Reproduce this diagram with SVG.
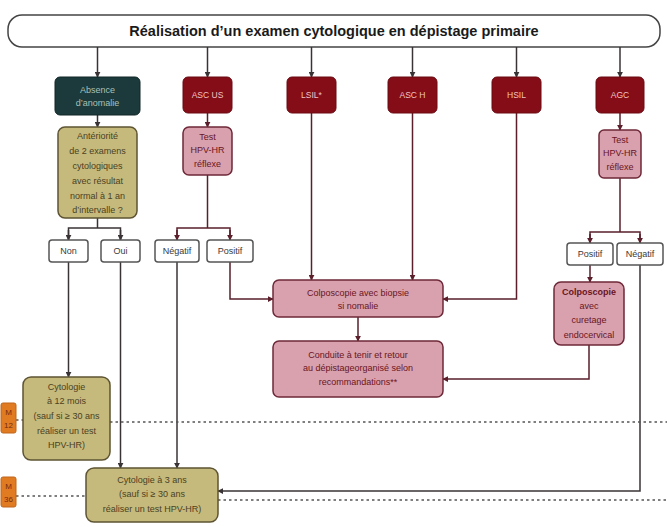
<svg xmlns="http://www.w3.org/2000/svg" width="667" height="527" viewBox="0 0 667 527">
<defs>
<marker id="ar" viewBox="0 0 8 8" refX="7" refY="4" markerWidth="6" markerHeight="6" orient="auto" markerUnits="userSpaceOnUse">
<path d="M0,0 L8,4 L0,8 z" fill="#3a3336"/>
</marker>
<marker id="arr" viewBox="0 0 8 8" refX="7" refY="4" markerWidth="6" markerHeight="6" orient="auto" markerUnits="userSpaceOnUse">
<path d="M0,0 L8,4 L0,8 z" fill="#5a1f2a"/>
</marker>
</defs>
<style>
text{font-family:"Liberation Sans",Arial,sans-serif;text-anchor:middle;font-size:9px}
.title{font-size:14.5px;font-weight:bold;fill:#1a1a1a}
.c{fill:none;stroke:#3a3336;stroke-width:1.5}
.cr{fill:none;stroke:#5a1f2a;stroke-width:1.5}
.dot{fill:none;stroke:#555;stroke-width:1.6;stroke-dasharray:2.5 3}
.red rect{fill:#850d17;stroke:#6a0a12;stroke-width:1}
.red text{fill:#f2c4c4;font-size:8.5px}
.teal rect{fill:#1c3a3b;stroke:#102526}
.teal text{fill:#a9c0b6}
.kh rect{fill:#c6b97c;stroke:#5e5433;stroke-width:1.5}
.kh text{fill:#4a4222}
.pk rect{fill:#d8a1ad;stroke:#6e2838;stroke-width:1.5}
.pk text{fill:#6a1424}
.wh rect{fill:#fff;stroke:#555;stroke-width:1.5}
.wh text{fill:#3a3a3a}
.or rect{fill:#e07b22;stroke:#c0661a}
.or text{fill:#7a2a10;font-size:8px}
</style>

<g id="title">
<rect x="8" y="15" width="652" height="32" rx="14" fill="#fff" stroke="#444" stroke-width="1.5"/>
<text class="title" x="334" y="36">Réalisation d’un examen cytologique en dépistage primaire</text>
</g>

<g id="connectors">
<line class="c" x1="97.5" y1="47" x2="97.5" y2="77" marker-end="url(#ar)"/>
<line class="c" x1="207.5" y1="47" x2="207.5" y2="77" marker-end="url(#ar)"/>
<line class="c" x1="311.5" y1="47" x2="311.5" y2="77" marker-end="url(#ar)"/>
<line class="c" x1="412.5" y1="47" x2="412.5" y2="77" marker-end="url(#ar)"/>
<line class="c" x1="516.5" y1="47" x2="516.5" y2="77" marker-end="url(#ar)"/>
<line class="c" x1="620" y1="47" x2="620" y2="77" marker-end="url(#ar)"/>

<line class="c" x1="97.5" y1="115" x2="97.5" y2="127" marker-end="url(#ar)"/>
<line class="cr" x1="207.5" y1="113" x2="207.5" y2="127" marker-end="url(#arr)"/>
<line class="cr" x1="620" y1="113" x2="620" y2="130" marker-end="url(#arr)"/>

<polyline class="c" points="97.5,218 97.5,228"/>
<polyline class="c" points="68.5,240 68.5,228 120.5,228 120.5,240"/>
<line class="c" x1="68.5" y1="230" x2="68.5" y2="240" marker-end="url(#ar)"/>
<line class="c" x1="120.5" y1="230" x2="120.5" y2="240" marker-end="url(#ar)"/>

<polyline class="cr" points="207.5,175 207.5,228"/>
<polyline class="cr" points="177,240 177,228 230,228 230,240"/>
<line class="cr" x1="177" y1="230" x2="177" y2="240" marker-end="url(#arr)"/>
<line class="cr" x1="230" y1="230" x2="230" y2="240" marker-end="url(#arr)"/>

<polyline class="cr" points="620,178 620,232"/>
<polyline class="cr" points="590,243 590,232 640,232 640,243"/>
<line class="cr" x1="590" y1="234" x2="590" y2="243" marker-end="url(#arr)"/>
<line class="cr" x1="640" y1="234" x2="640" y2="243" marker-end="url(#arr)"/>

<line class="c" x1="68.5" y1="262" x2="68.5" y2="377" marker-end="url(#ar)"/>
<line class="c" x1="120.5" y1="262" x2="120.5" y2="468" marker-end="url(#ar)"/>
<line class="c" x1="177" y1="262" x2="177" y2="468" marker-end="url(#ar)"/>

<polyline class="cr" points="230,262 230,299 273,299" marker-end="url(#arr)"/>
<line class="cr" x1="311.5" y1="113" x2="311.5" y2="280" marker-end="url(#arr)"/>
<line class="cr" x1="412.5" y1="113" x2="412.5" y2="280" marker-end="url(#arr)"/>
<polyline class="cr" points="516.5,113 516.5,299 443,299" marker-end="url(#arr)"/>
<line class="cr" x1="358" y1="317" x2="358" y2="341" marker-end="url(#arr)"/>

<line class="cr" x1="590" y1="265" x2="590" y2="282" marker-end="url(#arr)"/>
<polyline class="cr" points="589,345 589,379 443,379" marker-end="url(#arr)"/>
<polyline class="c" points="640,265 640,491 218,491" marker-end="url(#ar)"/>

<line class="dot" x1="16" y1="420" x2="23" y2="420"/>
<line class="dot" x1="110" y1="422" x2="667" y2="422"/>
<line class="dot" x1="16" y1="496" x2="86" y2="496"/>
<line class="dot" x1="218" y1="500" x2="667" y2="500"/>
</g>

<g id="absence" class="teal">
<rect x="55" y="77" width="85" height="38" rx="5"/>
<text x="97.5" y="93">Absence</text>
<text x="97.5" y="106">d’anomalie</text>
</g>
<g id="ascus" class="red">
<rect x="183" y="77" width="49" height="36" rx="5"/>
<text x="207.5" y="98">ASC US</text>
</g>
<g id="lsil" class="red">
<rect x="287" y="77" width="49" height="36" rx="5"/>
<text x="311.5" y="98">LSIL*</text>
</g>
<g id="asch" class="red">
<rect x="388" y="77" width="49" height="36" rx="5"/>
<text x="412.5" y="98">ASC H</text>
</g>
<g id="hsil" class="red">
<rect x="492" y="77" width="49" height="36" rx="5"/>
<text x="516.5" y="98">HSIL</text>
</g>
<g id="agc" class="red">
<rect x="596" y="77" width="48" height="36" rx="5"/>
<text x="620" y="98">AGC</text>
</g>

<g id="anteriorite" class="kh">
<rect x="58" y="127" width="79" height="91" rx="7"/>
<text x="97.5" y="139">Antériorité</text>
<text x="97.5" y="154">de 2 examens</text>
<text x="97.5" y="169">cytologiques</text>
<text x="97.5" y="184">avec résultat</text>
<text x="97.5" y="199">normal à 1 an</text>
<text x="97.5" y="213">d’intervalle ?</text>
</g>
<g id="test1" class="pk">
<rect x="183" y="127" width="49" height="48" rx="6"/>
<text x="207.5" y="140">Test</text>
<text x="207.5" y="153">HPV-HR</text>
<text x="207.5" y="167">réflexe</text>
</g>
<g id="test2" class="pk">
<rect x="599" y="130" width="42" height="48" rx="5"/>
<text x="620" y="143">Test</text>
<text x="620" y="156">HPV-HR</text>
<text x="620" y="170">réflexe</text>
</g>

<g id="non" class="wh"><rect x="49" y="240" width="39" height="22" rx="3"/><text x="68.5" y="254">Non</text></g>
<g id="oui" class="wh"><rect x="101" y="240" width="39" height="22" rx="3"/><text x="120.5" y="254">Oui</text></g>
<g id="negatif1" class="wh"><rect x="155" y="240" width="44" height="22" rx="3"/><text x="177" y="254">Négatif</text></g>
<g id="positif1" class="wh"><rect x="207" y="240" width="46" height="22" rx="3"/><text x="230" y="254">Positif</text></g>
<g id="positif2" class="wh"><rect x="567" y="243" width="46" height="22" rx="3"/><text x="590" y="257">Positif</text></g>
<g id="negatif2" class="wh"><rect x="617" y="243" width="46" height="22" rx="3"/><text x="640" y="257">Négatif</text></g>

<g id="colposcopie" class="pk">
<rect x="273" y="280" width="170" height="37" rx="6"/>
<text x="358" y="296">Colposcopie avec biopsie</text>
<text x="358" y="309">si nomalie</text>
</g>
<g id="conduite" class="pk">
<rect x="273" y="341" width="170" height="56" rx="6"/>
<text x="358" y="358">Conduite à tenir et retour</text>
<text x="358" y="371">au dépistageorganisé selon</text>
<text x="358" y="385">recommandations**</text>
</g>
<g id="curetage" class="pk">
<rect x="554" y="282" width="70" height="63" rx="7"/>
<text x="589" y="295" font-weight="bold">Colposcopie</text>
<text x="589" y="309">avec</text>
<text x="589" y="323">curetage</text>
<text x="589" y="338">endocervical</text>
</g>

<g id="cyto12" class="kh">
<rect x="23" y="377" width="87" height="83" rx="8"/>
<text x="66.5" y="390">Cytologie</text>
<text x="66.5" y="404">à 12 mois</text>
<text x="66.5" y="419">(sauf si ≥ 30 ans</text>
<text x="66.5" y="434">réaliser un test</text>
<text x="66.5" y="448">HPV-HR)</text>
</g>
<g id="cyto3" class="kh">
<rect x="86" y="468" width="132" height="54" rx="8"/>
<text x="152" y="483">Cytologie à 3 ans</text>
<text x="152" y="497">(sauf si ≥ 30 ans</text>
<text x="152" y="512">réaliser un test HPV-HR)</text>
</g>

<g id="m12" class="or">
<rect x="1" y="403" width="15" height="30" rx="2"/>
<text x="8.5" y="415">M</text>
<text x="8.5" y="428">12</text>
</g>
<g id="m36" class="or">
<rect x="1" y="477" width="15" height="30" rx="2"/>
<text x="8.5" y="489">M</text>
<text x="8.5" y="502">36</text>
</g>
</svg>
